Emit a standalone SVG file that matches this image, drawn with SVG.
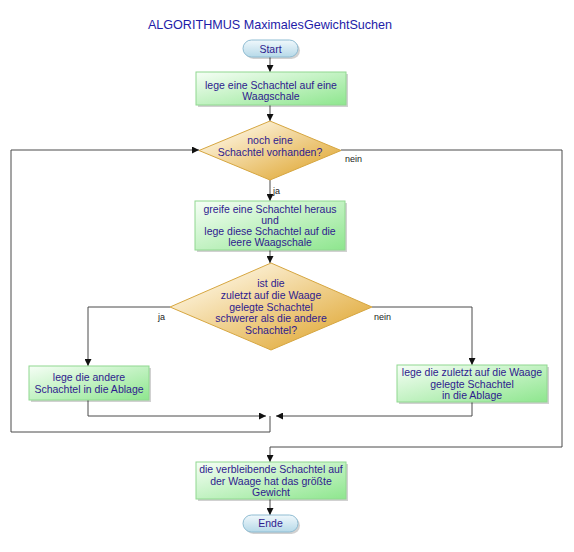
<svg xmlns="http://www.w3.org/2000/svg" width="574" height="552" viewBox="0 0 574 552">
<defs>
<linearGradient id="gBox" x1="0" y1="0" x2="1" y2="1">
<stop offset="0" stop-color="#f6fef6"/>
<stop offset="1" stop-color="#8ee68e"/>
</linearGradient>
<linearGradient id="gDia" x1="0" y1="0" x2="1" y2="1">
<stop offset="0.15" stop-color="#fdf4de"/>
<stop offset="0.85" stop-color="#e2ad40"/>
</linearGradient>
<linearGradient id="gTerm" x1="0" y1="0" x2="0" y2="1">
<stop offset="0" stop-color="#f0f8fc"/>
<stop offset="1" stop-color="#b6d9e8"/>
</linearGradient>
<marker id="arr" viewBox="0 0 8 8" refX="8" refY="4" markerWidth="7" markerHeight="7" markerUnits="userSpaceOnUse" orient="auto">
<path d="M0,0 L8,4 L0,8 z" fill="#111"/>
</marker>
</defs>
<style>
.box{fill:url(#gBox);stroke:#90d890;stroke-width:1}
.dia{fill:url(#gDia);stroke:#d6a640;stroke-width:1}
.term{fill:url(#gTerm);stroke:#8fbcd2;stroke-width:1}
.sh{fill:#000;opacity:0.18}
.t{font-family:"Liberation Sans",Arial,sans-serif;font-size:10.5px;fill:#2e1a8e;text-anchor:middle}
.tt{font-family:"Liberation Sans",Arial,sans-serif;font-size:12.6px;fill:#1e1ca8;text-anchor:middle}
.lbl{font-family:"Liberation Sans",Arial,sans-serif;font-size:9px;fill:#222}
.c{fill:none;stroke:#4a4a4a;stroke-width:1}
.ca{fill:none;stroke:#4a4a4a;stroke-width:1;marker-end:url(#arr)}
</style>
<rect width="574" height="552" fill="#fff"/>
<text class="tt" x="270" y="29">ALGORITHMUS MaximalesGewichtSuchen</text>

<g id="connectors">
<path class="ca" d="M270,57 V72"/>
<path class="ca" d="M270,105 V121"/>
<path class="ca" d="M270,180 V201"/>
<path class="ca" d="M341,150 H562 V447 H270 V462"/>
<path class="ca" d="M270,250 V263"/>
<path class="ca" d="M170,307 H88 V366"/>
<path class="ca" d="M372,307 H472 V365"/>
<path class="ca" d="M88,400 V416 H266"/>
<path class="ca" d="M472,402 V416 H276"/>
<path class="ca" d="M270,416 V432 H11 V150 H199"/>
<path class="ca" d="M270,499 V515"/>
<text class="lbl" x="273" y="194">ja</text>
<text class="lbl" x="345" y="162">nein</text>
<text class="lbl" x="158" y="320">ja</text>
<text class="lbl" x="374" y="320">nein</text>
</g>

<g id="start">
<rect class="sh" x="245" y="42" width="55" height="17" rx="8.5"/>
<rect class="term" x="243" y="40" width="55" height="17" rx="8.5"/>
<text class="t" x="270.5" y="52.5">Start</text>
</g>

<g id="box1">
<rect class="sh" x="198" y="74" width="150" height="33"/>
<rect class="box" x="196" y="72" width="150" height="33"/>
<text class="t" x="271" y="88.5">lege eine Schachtel auf eine</text>
<text class="t" x="271" y="99.5">Waagschale</text>
</g>

<g id="dec1">
<polygon class="dia" points="270,121 341,150.5 270,180 199,150.5"/>
<text class="t" x="270" y="144">noch eine</text>
<text class="t" x="270" y="156">Schachtel vorhanden?</text>
</g>

<g id="box2">
<rect class="sh" x="197" y="203" width="150" height="49"/>
<rect class="box" x="195" y="201" width="150" height="49"/>
<text class="t" x="270" y="212.5">greife eine Schachtel heraus</text>
<text class="t" x="270" y="223.5">und</text>
<text class="t" x="270" y="234.5">lege diese Schachtel auf die</text>
<text class="t" x="270" y="245.5">leere Waagschale</text>
</g>

<g id="dec2">
<polygon class="dia" points="271,263 372,307 271,350 170,307"/>
<text class="t" x="271" y="287">ist die</text>
<text class="t" x="271" y="298.5">zuletzt auf die Waage</text>
<text class="t" x="271" y="310.5">gelegte Schachtel</text>
<text class="t" x="271" y="322">schwerer als die andere</text>
<text class="t" x="271" y="333.5">Schachtel?</text>
</g>

<g id="boxLeft">
<rect class="sh" x="31" y="368" width="120" height="34"/>
<rect class="box" x="29" y="366" width="120" height="34"/>
<text class="t" x="89" y="381">lege die andere</text>
<text class="t" x="89" y="393">Schachtel in die Ablage</text>
</g>

<g id="boxRight">
<rect class="sh" x="399" y="367" width="150" height="37"/>
<rect class="box" x="397" y="365" width="150" height="37"/>
<text class="t" x="472" y="376">lege die zuletzt auf die Waage</text>
<text class="t" x="472" y="387.5">gelegte Schachtel</text>
<text class="t" x="472" y="399">in die Ablage</text>
</g>

<g id="box3">
<rect class="sh" x="198" y="464" width="150" height="37"/>
<rect class="box" x="196" y="462" width="150" height="37"/>
<text class="t" x="271" y="473">die verbleibende Schachtel auf</text>
<text class="t" x="271" y="484.5">der Waage hat das größte</text>
<text class="t" x="271" y="495.5">Gewicht</text>
</g>

<g id="end">
<rect class="sh" x="245" y="517" width="55" height="17" rx="8.5"/>
<rect class="term" x="243" y="515" width="55" height="17" rx="8.5"/>
<text class="t" x="270.5" y="527">Ende</text>
</g>
</svg>
